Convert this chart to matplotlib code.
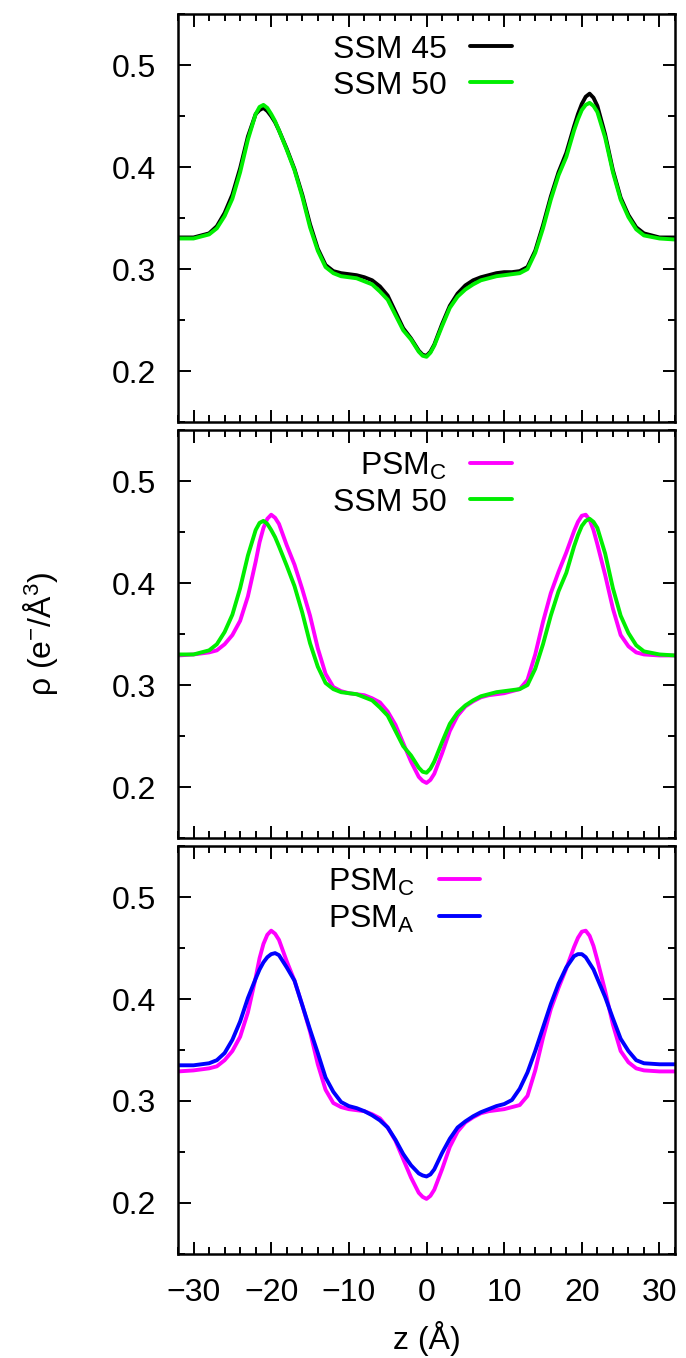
import matplotlib
matplotlib.use("Agg")
import matplotlib.pyplot as plt
from matplotlib.ticker import MultipleLocator

plt.rcParams['font.family'] = ['Liberation Sans', 'DejaVu Sans']
plt.rcParams['mathtext.fontset'] = 'custom'
plt.rcParams['mathtext.rm'] = 'Liberation Sans'
plt.rcParams['mathtext.it'] = 'Liberation Sans:italic'
plt.rcParams['mathtext.bf'] = 'Liberation Sans:bold'

# --- data (z in Angstrom, rho in e-/A^3) ---
z = [-32, -30, -28, -27, -26, -25, -24, -23, -22, -21.5, -21, -20.5, -20,
     -19.5, -19, -18, -17, -16, -15, -14, -13, -12, -11, -10, -9, -8, -7, -6,
     -5, -4, -3, -2, -1, -0.5, 0, 0.5, 1, 2, 3, 4, 5, 6, 7, 8, 9, 10, 11, 12,
     13, 14, 15, 16, 17, 18, 19, 19.5, 20, 20.5, 21, 21.5, 22, 23, 24, 25, 26,
     27, 28, 30, 32]

ssm45 = [0.331, 0.331, 0.335, 0.342, 0.355, 0.373, 0.399, 0.430, 0.452, 0.456,
         0.458, 0.455, 0.450, 0.444, 0.436, 0.418, 0.398, 0.373, 0.344, 0.320,
         0.304, 0.298, 0.296, 0.295, 0.294, 0.292, 0.289, 0.283, 0.274, 0.258,
         0.242, 0.232, 0.220, 0.216, 0.215, 0.219, 0.226, 0.246, 0.264, 0.276,
         0.284, 0.289, 0.292, 0.294, 0.296, 0.297, 0.297, 0.298, 0.302, 0.318,
         0.343, 0.371, 0.395, 0.414, 0.440, 0.452, 0.462, 0.469, 0.472, 0.468,
         0.460, 0.432, 0.397, 0.370, 0.353, 0.341, 0.335, 0.331, 0.331]

ssm50 = [0.330, 0.330, 0.334, 0.340, 0.352, 0.369, 0.395, 0.427, 0.452, 0.459,
         0.461, 0.458, 0.452, 0.445, 0.436, 0.417, 0.397, 0.371, 0.341, 0.318,
         0.302, 0.296, 0.293, 0.292, 0.291, 0.288, 0.285, 0.278, 0.270, 0.255,
         0.240, 0.231, 0.219, 0.215, 0.214, 0.218, 0.225, 0.244, 0.262, 0.273,
         0.280, 0.285, 0.289, 0.291, 0.293, 0.294, 0.295, 0.296, 0.300, 0.316,
         0.340, 0.368, 0.392, 0.410, 0.436, 0.447, 0.456, 0.461, 0.463, 0.460,
         0.454, 0.429, 0.395, 0.368, 0.351, 0.339, 0.333, 0.330, 0.329]

psm_c = [0.329, 0.330, 0.332, 0.334, 0.340, 0.349, 0.363, 0.387, 0.421, 0.440,
         0.454, 0.463, 0.467, 0.464, 0.458, 0.437, 0.418, 0.394, 0.368, 0.336,
         0.311, 0.298, 0.294, 0.292, 0.291, 0.290, 0.287, 0.283, 0.274, 0.261,
         0.243, 0.225, 0.210, 0.206, 0.204, 0.207, 0.213, 0.233, 0.255, 0.270,
         0.279, 0.284, 0.288, 0.290, 0.291, 0.292, 0.294, 0.296, 0.305, 0.330,
         0.362, 0.390, 0.411, 0.430, 0.451, 0.460, 0.466, 0.467, 0.462, 0.452,
         0.438, 0.408, 0.375, 0.349, 0.338, 0.332, 0.330, 0.329, 0.329]

psm_a = [0.335, 0.335, 0.337, 0.340, 0.347, 0.360, 0.378, 0.401, 0.420, 0.429,
         0.436, 0.441, 0.444, 0.445, 0.443, 0.431, 0.418, 0.394, 0.370, 0.347,
         0.323, 0.309, 0.299, 0.295, 0.293, 0.290, 0.286, 0.281, 0.274, 0.262,
         0.248, 0.237, 0.229, 0.227, 0.226, 0.228, 0.233, 0.249, 0.263, 0.274,
         0.280, 0.285, 0.289, 0.292, 0.295, 0.297, 0.301, 0.312, 0.328, 0.349,
         0.372, 0.395, 0.415, 0.431, 0.442, 0.444, 0.444, 0.441, 0.435, 0.429,
         0.420, 0.402, 0.381, 0.361, 0.349, 0.340, 0.337, 0.336, 0.336]

C_BLACK = '#000000'
C_GREEN = '#00ee00'
C_MAGENTA = '#ff00ff'
C_BLUE = '#0000ff'

panels = [
    [(ssm45, 'SSM 45', C_BLACK), (ssm50, 'SSM 50', C_GREEN)],
    [(psm_c, r'PSM$_{\rm C}$', C_MAGENTA), (ssm50, 'SSM 50', C_GREEN)],
    [(psm_c, r'PSM$_{\rm C}$', C_MAGENTA), (psm_a, r'PSM$_{\rm A}$', C_BLUE)],
]
legend_x = [0.672, 0.672, 0.608]

fig = plt.figure(figsize=(6.86, 13.58), dpi=100)
bottoms = [0.6892, 0.3829, 0.0766]
FS = 23

for i, series in enumerate(panels):
    ax = fig.add_axes([0.2595, bottoms[i], 0.7245, 0.3004])
    for vals, lab, col in series:
        ax.plot(z, vals, color=col, lw=2.8, label=lab,
                solid_capstyle='round', solid_joinstyle='round')
    ax.set_xlim(-32, 32)
    ax.set_ylim(0.15, 0.55)
    ax.xaxis.set_major_locator(MultipleLocator(10))
    ax.xaxis.set_minor_locator(MultipleLocator(2))
    ax.yaxis.set_major_locator(MultipleLocator(0.1))
    ax.yaxis.set_minor_locator(MultipleLocator(0.05))
    ax.tick_params(which='both', direction='in', top=True, right=True,
                   width=1.4, labelsize=FS)
    ax.tick_params(which='major', length=9)
    ax.tick_params(axis='y', which='major', pad=16)
    ax.tick_params(axis='x', which='major', pad=17)
    ax.tick_params(which='minor', length=5)
    for sp in ax.spines.values():
        sp.set_linewidth(1.8)
    ax.set_yticks([0.2, 0.3, 0.4, 0.5])
    ax.set_yticklabels(['0.2', '0.3', '0.4', '0.5'])
    if i < 2:
        ax.tick_params(labelbottom=False)
    else:
        ax.set_xlabel('z (Å)', fontsize=FS, labelpad=10)
    if i == 1:
        ax.set_ylabel(r'ρ (e$^{-}$/Å$^{3}$)', fontsize=FS)
        ax.yaxis.set_label_coords(-0.237, 0.5)
    ax.legend(loc='upper right', bbox_to_anchor=(legend_x[i], 0.95),
              frameon=False, markerfirst=False, fontsize=FS,
              handlelength=1.3, handletextpad=0.75, labelspacing=0.19,
              borderpad=0.0, borderaxespad=0.0)

fig.savefig('out.png', dpi=100)
